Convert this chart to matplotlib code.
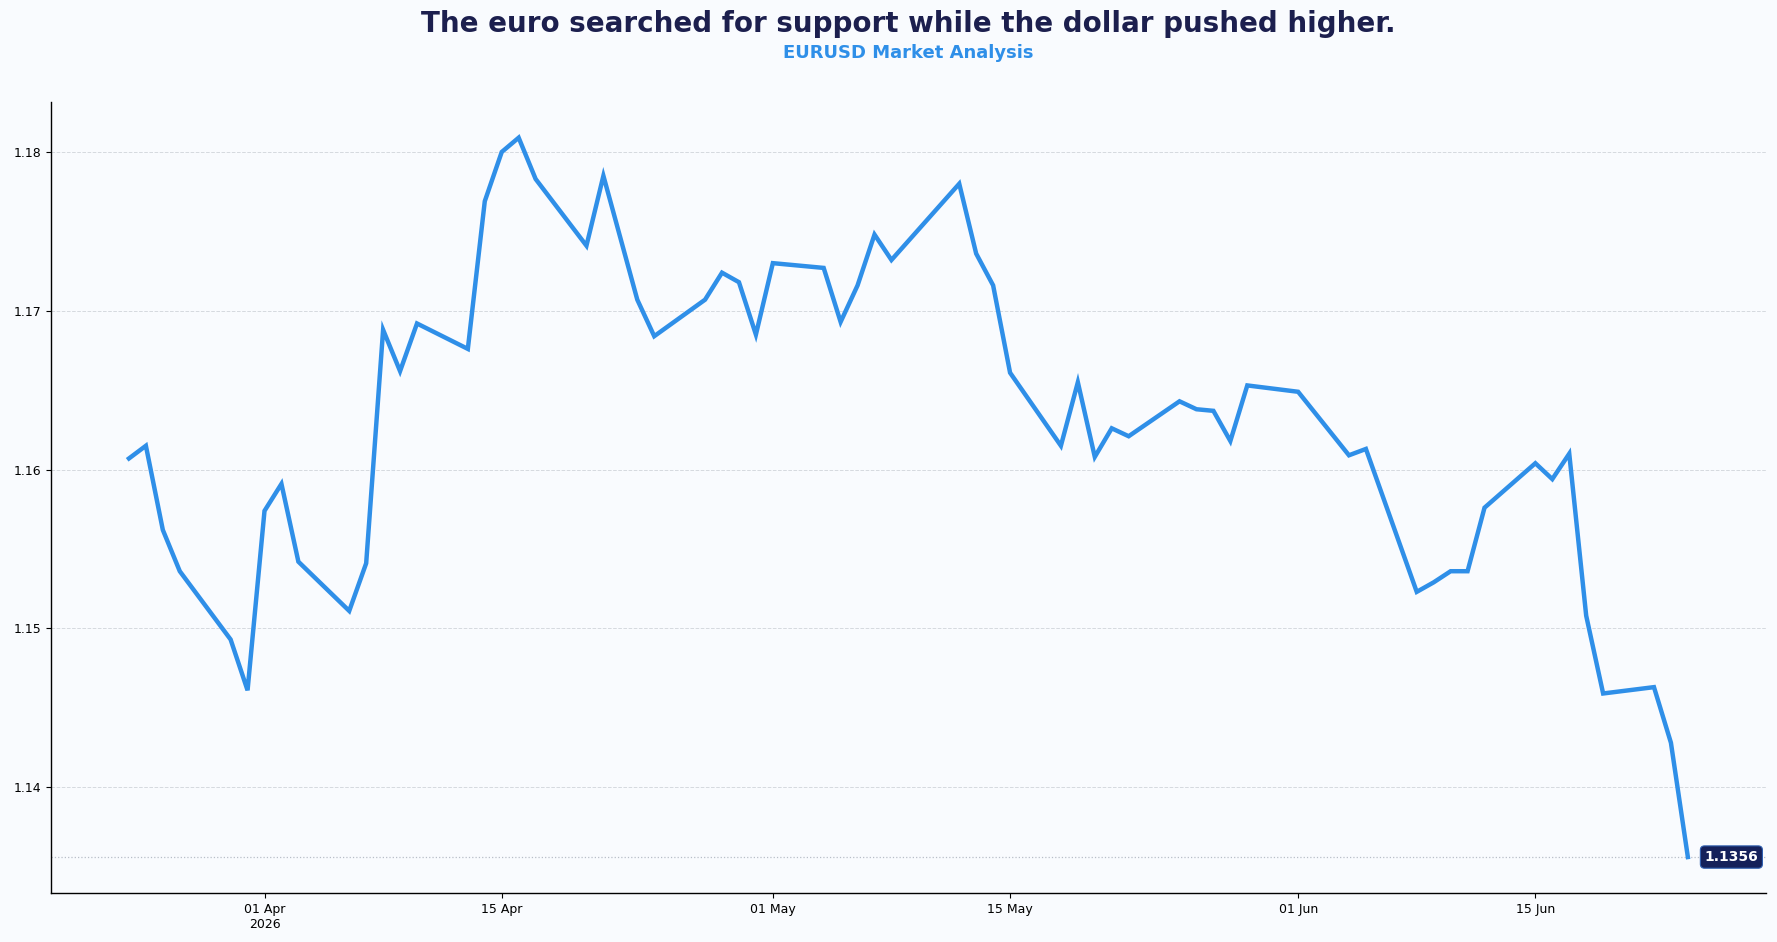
import numpy as np
import pandas as pd
import matplotlib
matplotlib.use('Agg')
import matplotlib.pyplot as plt

# ----------------------------------------------------------------
# Datos: cierre diario EURUSD
# ----------------------------------------------------------------
fechas = [
    '2026-03-24', '2026-03-25', '2026-03-26', '2026-03-27',
    '2026-03-30', '2026-03-31', '2026-04-01', '2026-04-02', '2026-04-03',
    '2026-04-06', '2026-04-07', '2026-04-08', '2026-04-09', '2026-04-10',
    '2026-04-13', '2026-04-14', '2026-04-15', '2026-04-16', '2026-04-17',
    '2026-04-20', '2026-04-21', '2026-04-22', '2026-04-23', '2026-04-24',
    '2026-04-27', '2026-04-28', '2026-04-29', '2026-04-30', '2026-05-01',
    '2026-05-04', '2026-05-05', '2026-05-06', '2026-05-07', '2026-05-08',
    '2026-05-11', '2026-05-12', '2026-05-13', '2026-05-14', '2026-05-15',
    '2026-05-18', '2026-05-19', '2026-05-20', '2026-05-21', '2026-05-22',
    '2026-05-25', '2026-05-26', '2026-05-27', '2026-05-28', '2026-05-29',
    '2026-06-01', '2026-06-04', '2026-06-05',
    '2026-06-08', '2026-06-09', '2026-06-10', '2026-06-11', '2026-06-12',
    '2026-06-15', '2026-06-16', '2026-06-17', '2026-06-18', '2026-06-19',
    '2026-06-22', '2026-06-23', '2026-06-24',
]
cierres = [
    1.1607, 1.1615, 1.1562, 1.1536,
    1.1493, 1.1461, 1.1574, 1.1591, 1.1542,
    1.1511, 1.1541, 1.1688, 1.1662, 1.1692,
    1.1676, 1.1769, 1.1800, 1.1809, 1.1783,
    1.1741, 1.1785, 1.1746, 1.1707, 1.1684,
    1.1707, 1.1724, 1.1718, 1.1685, 1.1730,
    1.1727, 1.1693, 1.1716, 1.1748, 1.1732,
    1.1768, 1.1780, 1.1736, 1.1716, 1.1661,
    1.1615, 1.1655, 1.1608, 1.1626, 1.1621,
    1.1643, 1.1638, 1.1637, 1.1618, 1.1653,
    1.1649, 1.1609, 1.1613,
    1.1523, 1.1529, 1.1536, 1.1536, 1.1576,
    1.1604, 1.1594, 1.1610, 1.1508, 1.1459,
    1.1463, 1.1428, 1.1356,
]

marcas_x = ['2026-04-01', '2026-04-15', '2026-05-01', '2026-05-15', '2026-06-01', '2026-06-15']
etiquetas_x = ['01 Apr\n2026', '15 Apr', '01 May', '15 May', '01 Jun', '15 Jun']

TITULO = 'The euro searched for support while the dollar pushed higher.'
SUBTITULO = 'EURUSD Market Analysis'

COLOR_FONDO = '#F9FBFE'
COLOR_LINEA = '#2F8FE8'
COLOR_TITULO = '#1C1F4E'
COLOR_CAJA = '#15215A'

# ----------------------------------------------------------------
# Gráfico
# ----------------------------------------------------------------
x = pd.to_datetime(fechas)
y = np.array(cierres)

fig = plt.figure(figsize=(17.77, 9.42), dpi=100, facecolor=COLOR_FONDO)
pos = [0.0287, 0.052, 0.965, 0.840]
ax = fig.add_axes(pos)
ax.set_facecolor(COLOR_FONDO)

ax.plot(x, y, color=COLOR_LINEA, linewidth=3.2, solid_joinstyle='miter', zorder=3)

# línea del último precio
ultimo = y[-1]
ax.axhline(ultimo, color='#B8BEC8', linestyle=':', linewidth=0.9, zorder=1)
ax.annotate(f'{ultimo:.4f}', xy=(x[-1], ultimo), xytext=(12, 0),
            textcoords='offset points', ha='left', va='center',
            color='white', fontsize=10, fontweight='bold',
            bbox=dict(boxstyle='round,pad=0.3', facecolor=COLOR_CAJA,
                      edgecolor='#2F5FB0', linewidth=0.8),
            zorder=5, annotation_clip=False)

ax.margins(x=0.05, y=0.05)
ax.set_yticks([1.14, 1.15, 1.16, 1.17, 1.18])
ax.set_yticklabels(['1.14', '1.15', '1.16', '1.17', '1.18'])
ax.set_xticks(pd.to_datetime(marcas_x))
ax.set_xticklabels(etiquetas_x)
ax.tick_params(axis='both', labelsize=9, colors='black')

ax.grid(axis='y', color='#D5D9DF', linestyle='--', linewidth=0.7)
ax.grid(axis='x', visible=False)
for lado in ['top', 'right']:
    ax.spines[lado].set_visible(False)
for lado in ['left', 'bottom']:
    ax.spines[lado].set_linewidth(1.0)

centro = pos[0] + pos[2] / 2
fig.text(centro, 0.975, TITULO, ha='center', va='center', fontsize=20,
         fontweight='bold', color=COLOR_TITULO)
fig.text(centro, 0.944, SUBTITULO, ha='center', va='center', fontsize=13,
         fontweight='bold', color=COLOR_LINEA)

fig.savefig('out.png', dpi=100, facecolor=COLOR_FONDO)
